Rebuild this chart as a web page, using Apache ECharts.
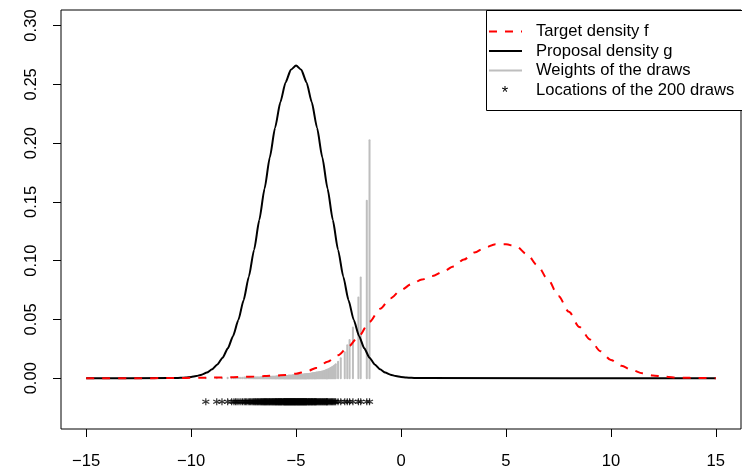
<!DOCTYPE html>
<html>
<head>
<meta charset="utf-8">
<script src="https://cdn.jsdelivr.net/npm/echarts@6/dist/echarts.min.js"></script>
<style>
html,body{margin:0;padding:0;background:#fff;}
#chart{width:742px;height:470px;}
</style>
</head>
<body>
<div id="chart"></div>
<script>
// ---- data ----
const fX = [-15,-14.5,-14,-13.5,-13,-12.5,-12,-11.5,-11,-10.5,-10,-9.5,-9,-8.5,-8,-7.5,-7,-6.5,-6,-5.5,-5,-4.5,-4,-3.5,-3,-2.5,-2,-1.5,-1,-0.5,0,0.5,1,1.5,2,2.5,3,3.5,4,4.5,5,5.5,6,6.5,7,7.5,8,8.5,9,9.5,10,10.5,11,11.5,12,12.5,13,13.5,14,14.5,15];
const targetF = [0,0,0,0,0,0,0,0.0001,0.0001,0.0002,0.0003,0.0004,0.0005,0.0007,0.0009,0.0011,0.0014,0.0018,0.0022,0.0028,0.0038,0.0058,0.0090,0.0140,0.0195,0.0270,0.0360,0.0480,0.0590,0.0680,0.0750,0.0800,0.0840,0.0870,0.0905,0.0950,0.1010,0.1070,0.1110,0.1140,0.1140,0.1120,0.1055,0.0960,0.0840,0.0700,0.0565,0.0435,0.0330,0.0230,0.0155,0.0105,0.0070,0.0042,0.0024,0.0013,0.0007,0.0004,0.0002,0.0001,0];
const gX = [-15,-11,-10.75,-10.5,-10.25,-10,-9.75,-9.5,-9.25,-9,-8.75,-8.5,-8.25,-8,-7.75,-7.5,-7.25,-7,-6.75,-6.5,-6.25,-6,-5.75,-5.5,-5.25,-5,-4.75,-4.5,-4.25,-4,-3.75,-3.5,-3.25,-3,-2.75,-2.5,-2.25,-2,-1.75,-1.5,-1.25,-1,-0.75,-0.5,-0.25,0,0.25,0.5,0.75,1,15];
const proposalG = [0,0.0001,0.0002,0.0003,0.0006,0.0010,0.0018,0.0030,0.0048,0.0076,0.0117,0.0175,0.0254,0.0360,0.0495,0.0663,0.0864,0.1093,0.1347,0.1613,0.1879,0.2130,0.2347,0.2516,0.2623,0.2660,0.2623,0.2516,0.2347,0.2130,0.1879,0.1613,0.1347,0.1093,0.0864,0.0663,0.0495,0.0360,0.0254,0.0175,0.0117,0.0076,0.0048,0.0030,0.0018,0.0010,0.0006,0.0003,0.0002,0.0001,0];
const drawX = [
-9.30,-8.78,-8.53,-8.26,-8.07,
-7.96,-7.88,-7.81,-7.72,-7.63,-7.55,
-7.47,-7.41,-7.35,-7.28,-7.22,-7.17,-7.11,-7.06,-7.02,
-6.97,-6.94,-6.90,-6.86,-6.83,-6.79,-6.75,-6.71,-6.68,-6.65,-6.62,-6.59,-6.56,-6.53,-6.51,
-6.48,-6.46,-6.43,-6.41,-6.38,-6.35,-6.33,-6.30,-6.27,-6.25,-6.22,-6.19,-6.16,-6.14,-6.11,-6.09,-6.06,-6.04,-6.01,
-5.99,-5.97,-5.95,-5.93,-5.91,-5.88,-5.86,-5.84,-5.82,-5.80,-5.78,-5.76,-5.74,-5.72,-5.70,-5.68,-5.66,-5.63,-5.61,-5.59,-5.57,-5.55,-5.54,-5.52,-5.51,
-5.49,-5.47,-5.46,-5.44,-5.42,-5.41,-5.39,-5.37,-5.36,-5.34,-5.32,-5.31,-5.29,-5.27,-5.26,-5.24,-5.22,-5.21,-5.19,-5.17,-5.16,-5.14,-5.12,-5.11,-5.09,-5.07,-5.06,-5.04,-5.03,-5.01,
-4.99,-4.97,-4.96,-4.94,-4.92,-4.91,-4.89,-4.87,-4.86,-4.84,-4.82,-4.81,-4.79,-4.77,-4.76,-4.74,-4.72,-4.71,-4.69,-4.67,-4.66,-4.64,-4.62,-4.61,-4.59,-4.57,-4.56,-4.54,-4.52,-4.51,
-4.49,-4.47,-4.44,-4.42,-4.40,-4.38,-4.36,-4.34,-4.31,-4.29,-4.27,-4.25,-4.23,-4.21,-4.19,-4.16,-4.14,-4.12,-4.10,-4.08,-4.06,-4.04,-4.02,
-3.98,-3.95,-3.92,-3.89,-3.86,-3.83,-3.80,-3.77,-3.74,-3.71,-3.68,-3.65,-3.62,-3.59,-3.56,-3.54,-3.52,-3.51,
-3.47,-3.43,-3.39,-3.35,-3.31,-3.27,-3.23,-3.19,-3.15,-3.11,
-3.00,-2.87,-2.68,-2.56,-2.45,-2.29,-2.03,-1.92,-1.63,-1.50
];
const drawW = [
0.0003,0.0003,0.0003,0.0003,0.0003,
0.0004,0.0004,0.0004,0.0004,0.0004,0.0004,
0.0005,0.0005,0.0005,0.0005,0.0005,0.0005,0.0005,0.0005,0.0005,
0.0006,0.0006,0.0006,0.0006,0.0007,0.0007,0.0007,0.0007,0.0007,0.0008,0.0008,0.0008,0.0008,0.0009,0.0009,
0.0009,0.0009,0.0010,0.0010,0.0010,0.0010,0.0010,0.0011,0.0011,0.0011,0.0011,0.0011,0.0012,0.0012,0.0012,0.0012,0.0012,0.0013,0.0013,
0.0013,0.0013,0.0013,0.0014,0.0014,0.0014,0.0014,0.0014,0.0015,0.0015,0.0015,0.0015,0.0015,0.0016,0.0016,0.0016,0.0016,0.0016,0.0017,0.0017,0.0017,0.0017,0.0017,0.0017,0.0018,
0.0018,0.0018,0.0018,0.0019,0.0019,0.0019,0.0019,0.0020,0.0020,0.0020,0.0020,0.0021,0.0021,0.0021,0.0021,0.0022,0.0022,0.0022,0.0022,0.0023,0.0023,0.0023,0.0023,0.0024,0.0024,0.0024,0.0024,0.0025,0.0025,0.0025,
0.0025,0.0025,0.0026,0.0026,0.0026,0.0026,0.0027,0.0027,0.0027,0.0027,0.0028,0.0028,0.0028,0.0028,0.0029,0.0029,0.0029,0.0029,0.0030,0.0030,0.0030,0.0030,0.0031,0.0031,0.0031,0.0031,0.0032,0.0032,0.0032,0.0033,
0.0033,0.0034,0.0034,0.0035,0.0035,0.0036,0.0036,0.0037,0.0038,0.0038,0.0039,0.0040,0.0040,0.0041,0.0042,0.0042,0.0043,0.0044,0.0045,0.0045,0.0046,0.0047,0.0048,
0.0048,0.0049,0.0050,0.0051,0.0052,0.0053,0.0054,0.0055,0.0057,0.0058,0.0060,0.0062,0.0064,0.0066,0.0068,0.0070,0.0071,0.0073,
0.0075,0.0079,0.0083,0.0087,0.0091,0.0095,0.0100,0.0105,0.0110,0.0118,
0.0140,0.0170,0.0220,0.0280,0.0325,0.0432,0.0686,0.0856,0.1510,0.2025
];
const drawLevel = -0.02;
const xTicks = [-15,-10,-5,0,5,10,15];
const yTicks = [0,0.05,0.10,0.15,0.20,0.25,0.30];
const legendLabels = ['Target density f','Proposal density g','Weights of the draws','Locations of the 200 draws'];

// ---- build ----
const FONT = 'Liberation Sans, Arial, Helvetica, sans-serif';
const FS = 16.6;
const chart = echarts.init(document.getElementById('chart'), null, {renderer:'canvas'});
const fData = fX.map((x,i)=>[x,targetF[i]]);
const gData = gX.map((x,i)=>[x,proposalG[i]]);
const wData = drawX.map((x,i)=>[x,drawW[i]]);
const sData = drawX.map(x=>[x,drawLevel]);
const starPath = 'path://M0,-3L0,3M-2.6,-1.5L2.6,1.5M-2.6,1.5L2.6,-1.5';

const legY = [31.5, 51, 70.5, 90];
const graphics = [
  {type:'rect', z:100, shape:{x:486.5,y:10.5,width:256,height:100}, style:{fill:'#fff',stroke:'#000',lineWidth:1}},
  {type:'line', z:101, shape:{x1:489,y1:legY[0],x2:522,y2:legY[0]}, style:{stroke:'#ff0000',lineWidth:2,lineDash:[8,8]}},
  {type:'line', z:101, shape:{x1:489,y1:legY[1],x2:522,y2:legY[1]}, style:{stroke:'#000',lineWidth:2}},
  {type:'line', z:101, shape:{x1:489,y1:legY[2],x2:522,y2:legY[2]}, style:{stroke:'#bebebe',lineWidth:2}},
  {type:'text', z:101, x:505, y:legY[3]+3, style:{text:'*', fill:'#000', font:FS+'px '+FONT, textAlign:'center', textVerticalAlign:'middle'}}
];
legendLabels.forEach((t,i)=>{
  graphics.push({type:'text', z:101, x:536, y:legY[i], style:{text:t, fill:'#000', font:FS+'px '+FONT, textAlign:'left', textVerticalAlign:'middle'}});
});

chart.setOption({
  animation:false,
  backgroundColor:'#fff',
  grid:{left:61, top:10, width:680, height:421, show:true, borderColor:'#000', borderWidth:1, backgroundColor:'transparent'},
  xAxis:{
    type:'value', min:-16.2, max:16.2,
    splitLine:{show:false}, axisLine:{show:false, onZero:false},
    axisTick:{show:true, length:8, lineStyle:{color:'#000',width:1}, customValues:xTicks},
    axisLabel:{customValues:xTicks, color:'#000', fontFamily:FONT, fontSize:FS, margin:24,
      formatter:v=> v<0 ? '\u2212'+Math.abs(v) : String(v)}
  },
  yAxis:{
    type:'value', min:-0.0432, max:0.3132,
    splitLine:{show:false}, axisLine:{show:false, onZero:false},
    axisTick:{show:true, length:8, lineStyle:{color:'#000',width:1}, customValues:yTicks},
    axisLabel:{customValues:yTicks, color:'#000', fontFamily:FONT, fontSize:FS, rotate:90, margin:21,
      formatter:v=> v.toFixed(2)}
  },
  graphic:graphics,
  series:[
    {type:'custom', z:1, data:wData, silent:true,
      renderItem:(params, api)=>{
        const p0 = api.coord([api.value(0), 0]);
        const p1 = api.coord([api.value(0), api.value(1)]);
        return {type:'line', shape:{x1:p0[0],y1:p0[1],x2:p1[0],y2:p1[1]}, style:{stroke:'#bebebe', lineWidth:2, lineCap:'round'}};
      }},
    {type:'line', z:2, data:gData, showSymbol:false, symbol:'none', smooth:0.2, smoothMonotone:'x',
      lineStyle:{color:'#000', width:2}},
    {type:'line', z:3, data:fData, showSymbol:false, symbol:'none', smooth:0.3, smoothMonotone:'x',
      lineStyle:{color:'#ff0000', width:2, type:[8,8]}},
    {type:'scatter', z:4, data:sData, symbol:starPath, symbolSize:7,
      itemStyle:{color:'none', borderColor:'#000', borderWidth:1.2}}
  ]
});
</script>
</body>
</html>
